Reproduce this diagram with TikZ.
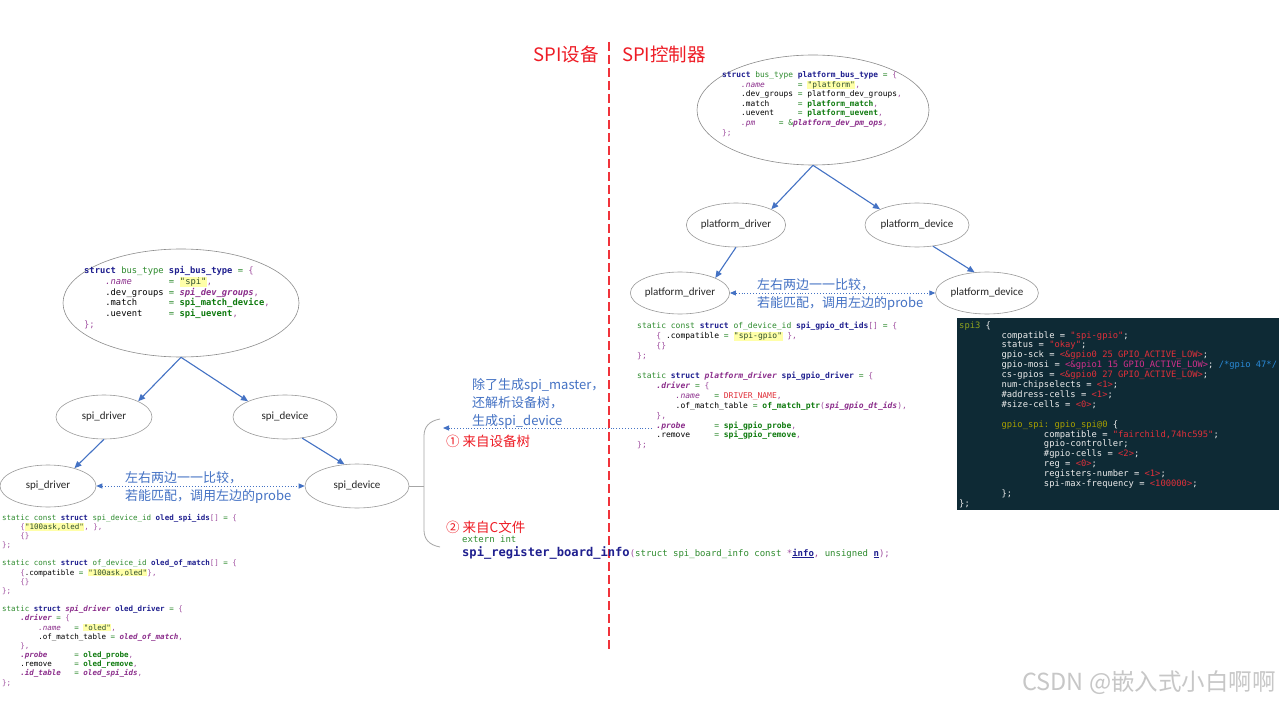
\documentclass[tikz,border=0pt]{standalone}
\usepackage{fontspec}
\setmainfont{Carlito}
\newfontfamily\cjk{Noto Sans CJK SC}
\newfontfamily\code{DejaVu Sans Mono}
\usetikzlibrary{shapes.geometric,arrows.meta}
\definecolor{myblue}{HTML}{4472C4}
\definecolor{myred}{HTML}{EE1C25}
\definecolor{ckw}{HTML}{1F1F8F}
\definecolor{cty}{HTML}{2E8B2E}
\definecolor{cfn}{HTML}{0E7A0E}
\definecolor{cit}{HTML}{8B2D8B}
\definecolor{cpu}{HTML}{A04FA0}
\definecolor{chl}{HTML}{FFFFA8}
\definecolor{cstr}{HTML}{2F4F2F}
\definecolor{dbg}{HTML}{0E2A35}
\definecolor{dfg}{HTML}{EDEDED}
\definecolor{dol}{HTML}{8FA21E}
\definecolor{dyel}{HTML}{A8A000}
\definecolor{dred}{HTML}{E0303A}
\definecolor{dmag}{HTML}{D0308A}
\definecolor{dblu}{HTML}{2A8AD8}
\newcommand\zk[1]{{\color{ckw}\bfseries #1}}
\newcommand\zt[1]{{\color{cty}#1}}
\newcommand\zf[1]{{\color{cfn}\bfseries #1}}
\newcommand\zi[1]{{\color{cit}\itshape #1}}
\newcommand\zb[1]{{\color{cit}\bfseries\itshape #1}}
\newcommand\zp[1]{{\color{cpu}#1}}
\newcommand\zs[1]{{\setlength\fboxsep{0.4pt}\colorbox{chl}{\color{cstr}#1}}}
\newcommand\zr[1]{{\color{dred}#1}}
\newcommand\zm[1]{{\color{dmag}#1}}
\newcommand\zo[1]{{\color{dol}#1}}
\newcommand\zy[1]{{\color{dyel}#1}}
\newcommand\zbl[1]{{\color{dblu}#1}}
\begin{document}
\catcode`\_=12
\begin{tikzpicture}[x=1pt,y=-1pt,
  ell/.style={ellipse, draw=black!40, line width=0.6pt, inner sep=0pt, text=black!85, font=\fontsize{11}{13}\selectfont},
  big/.style={ellipse, draw=black!45, line width=0.6pt, inner sep=0pt},
  tree/.style={draw=myblue, line width=1.1pt, -{Triangle[length=7pt,width=6pt]}},
  match/.style={draw=myblue, line width=0.9pt, dotted, {Triangle[length=6pt,width=5pt]}-{Triangle[length=6pt,width=5pt]}},
  codeblk/.style={anchor=north west, inner sep=0pt, align=left, text=black},
  note/.style={anchor=west, inner sep=0pt, align=left, text=myblue, font=\cjk\fontsize{13}{18}\selectfont},
  rednote/.style={anchor=west, inner sep=0pt, text=myred, font=\cjk\fontsize{13.5}{16}\selectfont},
  title/.style={inner sep=0pt, text=myred, font=\cjk\fontsize{18.5}{20}\selectfont},
  grayline/.style={draw=black!35, line width=0.8pt}
]
\useasboundingbox (0,0) rectangle (1279,703);
\fill[white] (0,0) rectangle (1279,703);

% titles and divider
\node[title] (t1) at (566,54) {SPI设备};
\node[title] (t2) at (664,54) {SPI控制器};
\coordinate (divtop) at (609,42);
\coordinate (divbot) at (609,650);
\draw[myred!90, line width=1.4pt, dash pattern=on 9pt off 4pt] (divtop) -- (divbot);

% right tree
\node[big, minimum width=232pt, minimum height=110pt] (bigR) at (813,110) {};
\node[codeblk, font=\code\fontsize{7.85}{9.55}\selectfont] (codeR) at (722,70.9) {\strut\zk{struct}~\zt{bus_type}~\zk{platform_bus_type}~\zt{=}~\zp{\{}\\
~~~~\zi{.name}~~~~~~~\zt{=}~\zs{"platform"}\zp{,}\\
~~~~.dev_groups~\zt{=}~platform_dev_groups\zp{,}\\
~~~~.match~~~~~~\zt{=}~\zf{platform_match}\zp{,}\\
~~~~.uevent~~~~~\zt{=}~\zf{platform_uevent}\zp{,}\\
~~~~\zi{.pm}~~~~~\zt{=}~\zt{\&}\zb{platform_dev_pm_ops}\zp{,}\\
\zp{\};}};
\node[ell, minimum width=96pt, minimum height=44pt] (pd) at (736,225) {platform_driver};
\node[ell, minimum width=104pt, minimum height=44pt] (pdev) at (917,225) {platform_device};
\node[ell, minimum width=96pt, minimum height=42pt] (pd2) at (680,293) {platform_driver};
\node[ell, minimum width=100pt, minimum height=42pt] (pdev2) at (987,293) {platform_device};
\draw[tree] (bigR.south) -- (pd.north east);
\draw[tree] (bigR.south) -- (pdev.north west);
\draw[tree] (pd.south) -- (pd2.north east);
\draw[tree] (pdev.-53) -- (pdev2.121);
\draw[match] (pd2.east) -- (pdev2.west);
\node[note] (cmpR) at (757,294) {左右两边一一比较，\\若能匹配，调用左边的probe};

% right code
\node[codeblk, font=\code\fontsize{8}{9.92}\selectfont] (codeRR) at (637,321.7) {\strut\zt{static const}~\zk{struct}~\zt{of_device_id}~\zk{spi_gpio_dt_ids}\zp{[]}~\zt{=}~\zp{\{}\\
~~~~\zp{\{}~.compatible~\zt{=}~\zs{"spi-gpio"}~\zp{\},}\\
~~~~\zp{\{\}}\\
\zp{\};}\\
~\\
\zt{static}~\zk{struct}~\zb{platform_driver}~\zk{spi_gpio_driver}~\zt{=}~\zp{\{}\\
~~~~\zb{.driver}~\zt{=}~\zp{\{}\\
~~~~~~~~\zi{.name}~~~\zt{=}~\zr{DRIVER_NAME}\zp{,}\\
~~~~~~~~.of_match_table~\zt{=}~\zf{of_match_ptr}\zp{(}\zb{spi_gpio_dt_ids}\zp{),}\\
~~~~\zp{\},}\\
~~~~\zb{.probe}~~~~~~\zt{=}~\zf{spi_gpio_probe}\zp{,}\\
~~~~.remove~~~~~\zt{=}~\zf{spi_gpio_remove}\zp{,}\\
\zp{\};}};

% device tree box
\fill[dbg] (957,318) rectangle (1285,510);
\node[codeblk, text=dfg, font=\code\fontsize{8.8}{9.9}\selectfont] (dts) at (959,321) {\strut\zo{spi3}~\{\\
~~~~~~~~compatible~=~\zr{"spi-gpio"};\\
~~~~~~~~status~=~\zr{"okay"};\\
~~~~~~~~gpio-sck~=~\zr{<\&gpio0~25~GPIO_ACTIVE_LOW>};\\
~~~~~~~~gpio-mosi~=~\zm{<\&gpio1~15~GPIO_ACTIVE_LOW>};~\zbl{/*gpio~47*/}\\
~~~~~~~~cs-gpios~=~\zr{<\&gpio0~27~GPIO_ACTIVE_LOW>};\\
~~~~~~~~num-chipselects~=~\zr{<1>};\\
~~~~~~~~\#address-cells~=~\zr{<1>};\\
~~~~~~~~\#size-cells~=~\zr{<0>};\\
~\\
~~~~~~~~\zy{gpio_spi:~gpio_spi@0}~\{\\
~~~~~~~~~~~~~~~~compatible~=~\zr{"fairchild,74hc595"};\\
~~~~~~~~~~~~~~~~gpio-controller;\\
~~~~~~~~~~~~~~~~\#gpio-cells~=~\zr{<2>};\\
~~~~~~~~~~~~~~~~reg~=~\zr{<0>};\\
~~~~~~~~~~~~~~~~registers-number~=~\zr{<1>};\\
~~~~~~~~~~~~~~~~spi-max-frequency~=~\zr{<100000>};\\
~~~~~~~~\};\\
\};};

% left tree
\node[big, minimum width=236pt, minimum height=108pt] (bigL) at (181,303) {};
\node[codeblk, font=\code\fontsize{8.8}{10.65}\selectfont] (codeL) at (84,266.1) {\strut\zk{struct}~\zt{bus_type}~\zk{spi_bus_type}~\zt{=}~\zp{\{}\\
~~~~\zi{.name}~~~~~~~\zt{=}~\zs{"spi"}\zp{,}\\
~~~~.dev_groups~\zt{=}~\zb{spi_dev_groups}\zp{,}\\
~~~~.match~~~~~~\zt{=}~\zf{spi_match_device}\zp{,}\\
~~~~.uevent~~~~~\zt{=}~\zf{spi_uevent}\zp{,}\\
\zp{\};}};
\node[ell, minimum width=96pt, minimum height=44pt] (sd) at (104,417) {spi_driver};
\node[ell, minimum width=104pt, minimum height=44pt] (sdev) at (285,417) {spi_device};
\node[ell, minimum width=96pt, minimum height=42pt] (sd2) at (48,486) {spi_driver};
\node[ell, minimum width=104pt, minimum height=44pt] (sdev2) at (357,486) {spi_device};
\draw[tree] (bigL.south) -- (sd.north east);
\draw[tree] (bigL.south) -- (sdev.north west);
\draw[tree] (sd.south) -- (sd2.34);
\draw[tree] (sdev.-51) -- (sdev2.120);
\draw[match] (sd2.east) -- (sdev2.west);
\node[note] (cmpL) at (125,487) {左右两边一一比较，\\若能匹配，调用左边的probe};

% left code
\node[codeblk, font=\code\fontsize{7.5}{9.17}\selectfont] (codeLL) at (2,513.4) {\strut\zt{static const}~\zk{struct}~\zt{spi_device_id}~\zk{oled_spi_ids}\zp{[]}~\zt{=}~\zp{\{}\\
~~~~\zp{\{}\zs{"100ask,oled"}\zp{,~\},}\\
~~~~\zp{\{\}}\\
\zp{\};}\\
~\\
\zt{static const}~\zk{struct}~\zt{of_device_id}~\zk{oled_of_match}\zp{[]}~\zt{=}~\zp{\{}\\
~~~~\zp{\{}.compatible~\zt{=}~\zs{"100ask,oled"}\zp{\},}\\
~~~~\zp{\{\}}\\
\zp{\};}\\
~\\
\zt{static}~\zk{struct}~\zb{spi_driver}~\zk{oled_driver}~\zt{=}~\zp{\{}\\
~~~~\zb{.driver}~\zt{=}~\zp{\{}\\
~~~~~~~~\zi{.name}~~~\zt{=}~\zs{"oled"}\zp{,}\\
~~~~~~~~.of_match_table~\zt{=}~\zb{oled_of_match}\zp{,}\\
~~~~\zp{\},}\\
~~~~\zb{.probe}~~~~~~\zt{=}~\zf{oled_probe}\zp{,}\\
~~~~.remove~~~~~\zt{=}~\zf{oled_remove}\zp{,}\\
~~~~\zb{.id_table}~~~\zt{=}~\zb{oled_spi_ids}\zp{,}\\
\zp{\};}};

% brace and middle annotations
\coordinate (braceTop) at (440,419);
\coordinate (braceMid) at (424,486);
\coordinate (braceBot) at (440,547);
\draw[grayline] (braceTop) .. controls (429,421) and (424,427) .. (424,436) -- (424,530) .. controls (424,539) and (429,545) .. (braceBot);
\draw[grayline] (sdev2.east) -- (braceMid);
\coordinate (probeL) at (652,428);
\coordinate (braceTip) at (443,428);
\draw[draw=myblue, line width=0.9pt, dotted, -{Triangle[length=6pt,width=5pt]}] (probeL) -- (braceTip);
\node[note] (mid) at (472,403) {除了生成spi_master，\\还解析设备树，\\生成spi_device};
\node[rednote] (src1) at (446,441) {① 来自设备树};
\node[rednote] (src2) at (446,527) {② 来自C文件};
\node[anchor=base west, inner sep=0pt, font=\code\fontsize{9}{10}\selectfont] (ext) at (462,542) {\zt{extern~int}};
\node[anchor=base west, inner sep=0pt] (reg) at (462,556) {{\code\fontsize{12.1}{14}\selectfont\zk{spi_register_board_info}}{\code\fontsize{9}{10}\selectfont\zp{(}\zt{struct~spi_board_info~const~}\zp{*}\zk{\underline{info}}\zp{,}\zt{~unsigned~}\zk{\underline{n}}\zp{);}}};

% watermark
\node[anchor=east, inner sep=0pt, text=black!22, font=\cjk\fontsize{23.5}{26}\selectfont] (wm) at (1276,683) {CSDN @嵌入式小白啊啊};
\end{tikzpicture}
\end{document}
